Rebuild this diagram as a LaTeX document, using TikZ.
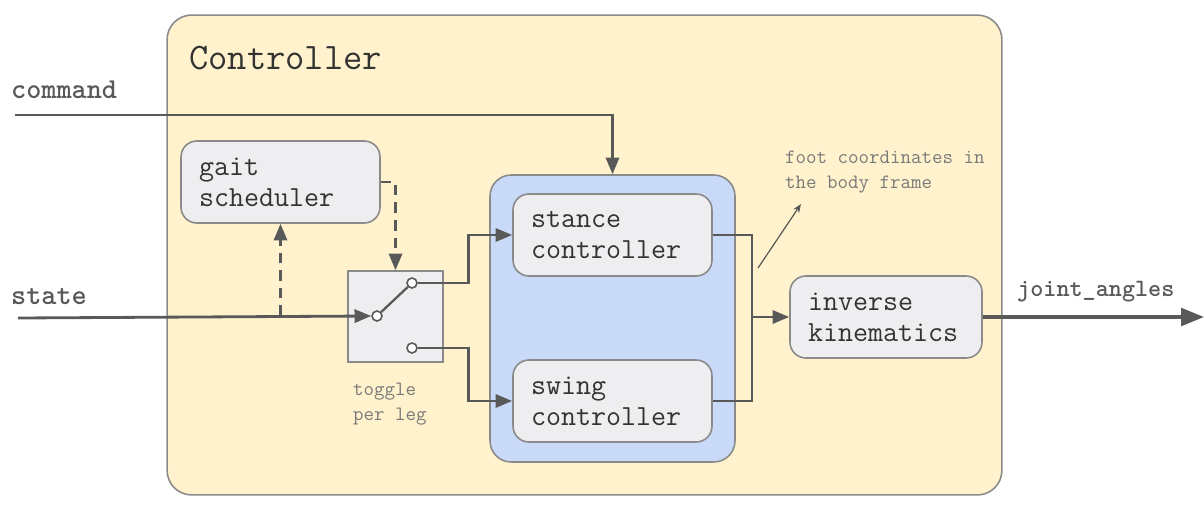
\documentclass[tikz,border=0pt]{standalone}
\usetikzlibrary{arrows.meta, positioning, calc}

\definecolor{ctrlfill}{HTML}{FFF2CC}
\definecolor{groupfill}{HTML}{C9DAF8}
\definecolor{blockfill}{HTML}{EEEEF0}
\definecolor{wirecol}{HTML}{595959}
\definecolor{rimcol}{HTML}{8A8A8A}
\definecolor{notecol}{HTML}{7A7A7A}

\begin{document}
\begin{tikzpicture}[
    x=0.02cm, y=-0.02cm,
    block/.style={draw=rimcol, line width=0.9pt, rounded corners=9pt, fill=blockfill,
                  minimum width=3.98cm, minimum height=1.64cm, inner xsep=0.36cm,
                  text width=3.26cm, align=left, text=black!80,
                  font=\ttfamily\fontsize{16.6}{17.5}\selectfont},
    wire/.style={draw=wirecol, line width=1.6pt},
    arr/.style={wire, -{Triangle[length=9.5pt, width=7.5pt]}},
    dasharr/.style={arr, dashed, dash pattern=on 6pt off 4pt},
    pin/.style={circle, draw=wirecol, fill=white, line width=0.9pt,
                minimum size=0.2cm, inner sep=0pt},
    label/.style={font=\ttfamily\bfseries\fontsize{16.4}{17}\selectfont, text=wirecol},
    note/.style={font=\ttfamily\fontsize{11.6}{14}\selectfont, text=notecol, align=left}
  ]

  \useasboundingbox (0,0) rectangle (1204,504);

  % containers
  \node[draw=rimcol, line width=0.9pt, fill=ctrlfill, rounded corners=14pt,
        minimum width=16.7cm, minimum height=9.6cm] (ctrl) at (584.5,255) {};
  \node[anchor=west, font=\ttfamily\fontsize{21.3}{22}\selectfont, text=black!80]
    (ctrlname) at (183,58) {Controller};
  \node[draw=rimcol, line width=0.9pt, fill=groupfill, rounded corners=12pt,
        minimum width=4.9cm, minimum height=5.74cm] (legs) at (612.5,318.5) {};

  % blocks
  \node[block] (gait) at (280.5,182) {gait\\scheduler};
  \node[block] (stance) at (612.5,235) {stance\\controller};
  \node[block] (swing) at (612.5,401) {swing\\controller};
  \node[block, minimum width=3.84cm, text width=3.12cm] (ik) at (886,317)
    {inverse\\kinematics};

  % toggle switch
  \node[draw=rimcol, line width=0.9pt, fill=blockfill, minimum width=1.9cm,
        minimum height=1.82cm] (switch) at (395.5,316.5) {};
  \node[pin] (sin) at (377,316) {};
  \node[pin] (sup) at (412,283) {};
  \node[pin] (sdn) at (412,348) {};
  \draw[wirecol, line width=1.3pt] (sin) -- (sup);
  \node[note, anchor=west] (toggle) at (347,404) {toggle\\per leg};

  % inputs
  \node[label, anchor=west] (command) at (5,90) {command};
  \node[label, anchor=west] (state) at (5,297) {state};
  \coordinate (cmdin) at (15,115);
  \coordinate (statein) at (18,318);
  \draw[arr] (cmdin) -| (legs.north);
  \draw[arr] (statein) -- (sin.west);
  \draw[dasharr] (gait.south |- sin) -- (gait.south);
  \draw[dasharr] (gait.east) -| (switch.north);

  % switch outputs to the leg controllers
  \draw[arr] (sup.east) -- ++(51,0) |- (stance.west);
  \draw[arr] (sdn.east) -- ++(51,0) |- (swing.west);

  % merge into inverse kinematics
  \coordinate (merge) at (752,317);
  \draw[wire] (stance.east) -| (merge);
  \draw[wire] (swing.east) -| (merge);
  \draw[arr] (merge) -- (ik.west);

  % foot coordinates note
  \coordinate (notefrom) at (758,268);
  \coordinate (noteto) at (801,204);
  \draw[draw=wirecol, line width=0.7pt, -{Stealth[length=5pt, width=4pt]}]
    (notefrom) -- (noteto);
  \node[note, anchor=west] (footnote) at (779,172) {foot coordinates in\\the body frame};

  % output
  \coordinate (out) at (1204,317);
  \draw[wire, line width=2pt, -{Triangle[length=13pt, width=10pt]}] (ik.east) -- (out);
  \node[label, anchor=west, font=\ttfamily\bfseries\fontsize{14.2}{15}\selectfont]
    (angles) at (1011,292) {joint\_angles};

\end{tikzpicture}
\end{document}
